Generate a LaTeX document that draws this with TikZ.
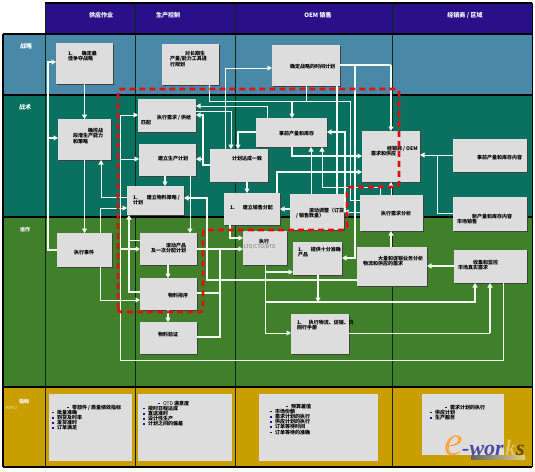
\documentclass[tikz,border=0pt]{standalone}
\usepackage{fontspec}
\setmainfont{Noto Sans CJK SC}
\newfontfamily\wmfont{Liberation Serif}
\usetikzlibrary{arrows.meta,shadows}
\definecolor{hdr}{HTML}{2A1088}
\definecolor{strat}{HTML}{4A88A8}
\definecolor{tact}{HTML}{0A7060}
\definecolor{oper}{HTML}{40802A}
\definecolor{kpi}{HTML}{C89E00}
\definecolor{boxc}{HTML}{DDDDDD}
\definecolor{wire}{HTML}{F4FFF4}
\definecolor{redd}{HTML}{DD1111}
\definecolor{bul}{HTML}{2A1088}
\definecolor{rule1}{HTML}{0A2A10}
\tikzset{
  boxnode/.style={rectangle,fill=boxc,inner sep=0pt,outer sep=0pt,
    general shadow={fill=black!75,shadow xshift=.7pt,shadow yshift=-.7pt},
    font=\fontsize{5}{5.5}\selectfont\bfseries,text=black},
  kpibox/.style={rectangle,fill=boxc,inner sep=0pt,outer sep=0pt,
    font=\fontsize{5}{5.5}\selectfont\bfseries,text=black},
  hline/.style={draw=black,line width=1.3pt},
  vline/.style={draw=rule1,line width=.6pt},
  hdrtext/.style={text=white,font=\fontsize{6}{7}\selectfont\bfseries,inner sep=0pt},
  rowtext/.style={text=white,font=\fontsize{6}{7}\selectfont\bfseries,inner sep=0pt},
  thin wire/.style={draw=wire,line width=.8pt},
  fat wire/.style={draw=wire,line width=1.4pt},
  tip/.style={-{Triangle[length=4.5pt,width=5pt,fill=wire]}},
  reddash/.style={draw=redd,line width=2.6pt,dash pattern=on 6pt off 4pt,rounded corners=3pt},
}
\newcommand\bxsp{5.6}
% name, x1,y1,x2,y2 (box corners), tx,ty (baseline start of first text line), text
\newcommand\bx[9][boxnode]{%
  \pgfmathsetmacro\bxcx{(#3+#5)/2}\pgfmathsetmacro\bxcy{(#4+#6)/2}%
  \pgfmathsetmacro\bxw{#5-#3}\pgfmathsetmacro\bxh{#6-#4}%
  \pgfmathsetmacro\bxdx{#7-\bxcx}\pgfmathsetmacro\bxdy{\bxcy-#8}%
  \node[#1,minimum width=\bxw pt,minimum height=\bxh pt] (#2) at (\bxcx,\bxcy)
   {\makebox[0pt][l]{\hspace*{\bxdx pt}\raisebox{\bxdy pt}[0pt][0pt]{\parbox[t]{140pt}{\raggedright\lineskiplimit=-20pt\setlength\baselineskip{\bxsp pt}#9}}}};%
}
\newcommand\bu[1]{\makebox[5pt][l]{\textcolor{bul}{\rule[.8pt]{1.6pt}{1.6pt}}}#1}
\begin{document}
\begin{tikzpicture}[x=1pt,y=-1pt]
\useasboundingbox (0,0) rectangle (535,471);
\fill[white] (0,0) rectangle (535,471);
% bands
\fill[hdr] (45,3) rectangle (532,34);
\fill[strat] (3,34) rectangle (532,95);
\fill[tact] (3,95) rectangle (532,217);
\fill[oper] (3,217) rectangle (532,387);
\fill[kpi] (3,387) rectangle (532,467);
% column lines
\foreach \cx in {45,135,235,392}{\draw[vline] (\cx,3) -- (\cx,467);}
\draw[hline] (45,3) -- (532,3);
\foreach \ry in {34,95,217,387,467}{\draw[hline] (3,\ry) -- (532,\ry);}
\draw[hline] (3,34) -- (3,467);
\draw[draw=black,line width=.6pt] (532,3) -- (532,467);
% headers
\node[hdrtext] (h1) at (101,15) {供应作业};
\node[hdrtext] (h2) at (168,15) {生产控制};
\node[hdrtext] (h3) at (318,15) {OEM 销售};
\node[hdrtext] (h4) at (465,15) {经销商 / 区域};
\node[rowtext] (r1) at (26,46) {战略};
\node[rowtext] (r2) at (25,107) {战术};
\node[rowtext,font=\fontsize{5}{6}\selectfont\bfseries] (r3) at (25,230) {运作};
\node[rowtext,text=white,font=\fontsize{5}{6}\selectfont\bfseries] (r4) at (24,402) {指标};
\node[rowtext,text=kpi!35!white,font=\fontsize{4.5}{6}\selectfont] (r5) at (11,408) {(KPIs)};
% boxes
\bx{A}{56}{43}{113}{84}{68}{55}{1.\hspace{9pt}确定最\\佳争夺战略}
\bx{B}{162}{44}{219}{85}{170}{55}{\hspace*{15pt}对长期生\\产量/能力工具进\\行规划}
\bx{C}{272}{45}{340}{86}{290}{68}{确定战略的时间计划}
\bx{D}{58}{119}{111}{160}{73}{132}{\hspace*{15pt}确控战\\段增生产能力\\和策略}
\bx{E}{138}{99}{196}{132}{141}{119}{\hspace*{16pt}执行需求 / 供给\\匹配}
\bx{F}{139}{144}{196}{176}{158}{160}{建立生产计划}
\bx{G}{210}{149}{268}{182}{232}{160}{计划达成一致}
\bx{H}{256}{118}{327}{147}{279}{135}{事前产量和库存}
\bx{I}{362}{131}{420}{182}{371}{150}{\hspace*{16pt}经销商 / OEM\\需求和供应}
\bx{J}{453}{139}{527}{172}{477}{159}{事前产量和库存内容}
\bx{K}{453}{197}{527}{231}{457}{218}{\hspace*{15pt}新产量和库存内容\\市场销售}
\bx{L}{127}{186}{184}{215}{133}{199}{1.\hspace{9pt}建立物料策略 /\\计划}
\bx{M}{224}{193}{280}{225}{230}{209}{1.\hspace{8pt}建立销售分配}
\bx{N}{290}{194}{344}{230}{296}{212}{\hspace*{13pt}滚动调整（订货\\/ 销售数量）}
\bx{O}{360}{195}{423}{231}{381}{215}{执行需求分析}
\bx{P}{57}{233}{112}{267}{74}{254}{执行事件}
\bx{Q}{140}{233}{197}{265}{151}{247}{\hspace*{15pt}滚动产品\\及一次分配计划}
\bx{R}{140}{278}{197}{310}{168}{297}{物料排序}
\bx{S}{140}{322}{197}{354}{158}{336}{物料验证}
\bx{T}{243}{231}{287}{265}{244}{243}{\hspace*{15pt}执行\\\mbox{\mdseries\textcolor{black!55}{LTO/CTO/BTO}}}
\bx{U}{293}{242}{342}{275}{298}{251}{1.\hspace{8pt}提供十分准确\\产品}
\bx{V}{357}{247}{427}{286}{363}{260}{\hspace*{15pt}大量和促销业务分析\\物流和供应的需求}
\bx{W}{454}{250}{527}{283}{458}{264}{\hspace*{15pt}收集和监控\\市场真实需求}
\bx{X}{291}{314}{349}{354}{297}{324}{1.\hspace{7pt}执行物流、促销、价\\回行手册}
% KPI boxes
\renewcommand\bxsp{5.2}
\bx[kpibox]{K1}{49}{394}{132}{461}{52}{409}{\hspace*{15pt}\bu{零部件 / 质量绩效指标}\\\bu{批量准确}\\\bu{到货及时率}\\\bu{发货准时}\\\bu{订单满足}}
\bx[kpibox]{K2}{138}{394}{232}{461}{143}{405}{\hspace*{15pt}\bu{{\mdseries OTD} 满意度}\\\bu{按时日程达成}\\\bu{直送准时}\\\bu{设计性生产}\\\bu{计划之间的偏差}}
\bx[kpibox]{K3}{259}{394}{378}{461}{270}{408}{\hspace*{16pt}\bu{预算差值}\\\bu{市场份额}\\\bu{需求计划的执行}\\\bu{供应计划的执行}\\\bu{订单等待时间}\\\bu{订单等待的准确}}
\bx[kpibox]{K4}{422}{394}{504}{455}{430}{409}{\hspace*{15pt}\bu{需求计划的执行}\\\bu{供应计划}\\\bu{生产服务}}
% connectors
\draw[fat wire,tip] (P.west |- 0,250) -- (48,250) -- (48,62) -- (A.west |- 0,62);
\draw[fat wire,tip] (48,138) -- (D.west |- 0,138);
\draw[thin wire,tip] (A.south -| 84.5,0) -- (D.north -| 84.5,0);
\draw[thin wire,tip] (D.south -| 84.5,0) -- (P.north -| 84.5,0);
\draw[thin wire,tip] (L.west |- 0,197) -- (101,197) -- (D.south -| 101,0);
\draw[thin wire,tip] (P.north -| 100,0) -- (100,208) -- (L.west |- 0,208);
\draw[thin wire,tip] (P.south -| 100,0) -- (100,300) -- (R.west |- 0,300);
\draw[thin wire,tip] (W.south -| 503,0) -- (503,360) -- (120,360) -- (120,115) -- (E.west |- 0,115);
\draw[thin wire,tip] (120,159) -- (F.west |- 0,159);
\draw[fat wire,tip] (120,249) -- (Q.west |- 0,249);
\draw[thin wire,tip] (H.north -| 267,0) -- (267,106) -- (E.east |- 0,106);
\draw[thin wire] (B.south -| 209,0) -- (209,101) -- (350,101) -- (350,200) -- (O.west |- 0,200);
\draw[thin wire] (C.south -| 306,0) -- (306,101);
\draw[fat wire,tip] (292,101) -- (H.north -| 292,0);
\draw[fat wire,tip] (G.west |- 0,165) -- (203,165) -- (203,115) -- (E.east |- 0,115);
\draw[fat wire,tip] (203,159) -- (F.east |- 0,159);
\draw[thin wire,tip] (E.east |- 0,111) -- (231,111) -- (G.north -| 231,0);
\draw[thin wire,tip] (G.north -| 225,0) -- (225,68) -- (C.west |- 0,68);
\draw[fat wire,tip] (H.west |- 0,132) -- (238,132) -- (G.north -| 238,0);
\draw[fat wire,tip] (G.south -| 247,0) -- (M.north -| 247,0);
\draw[fat wire,tip] (F.south -| 165,0) -- (L.north -| 165,0);
\draw[thin wire,tip] (F.south -| 190,0) -- (Q.north -| 190,0);
\draw[fat wire,tip] (V.west |- 0,280) -- (207,280) -- (207,198) -- (L.east |- 0,198);
\draw[fat wire,tip] (Q.east |- 0,249) -- (T.west |- 0,249);
\draw[fat wire] (R.east |- 0,293) -- (220,293);
\draw[fat wire] (S.east |- 0,337) -- (220,337) -- (220,249);
\draw[fat wire,tip] (Q.south -| 168,0) -- (R.north -| 168,0);
\draw[fat wire,tip] (R.south -| 168,0) -- (S.north -| 168,0);
\draw[fat wire,tip] (R.west |- 0,292) -- (129,292) -- (L.south -| 129,0);
\draw[thin wire] (Q.west |- 0,240) -- (129,240);
\draw[fat wire,tip] (M.south -| 230,0) -- (230,238) -- (T.west |- 0,238);
\draw[thin wire,tip] (T.south -| 265,0) -- (265,333) -- (X.west |- 0,333);
\draw[fat wire,tip] (265,272) -- (U.west |- 0,272);
\draw[fat wire,tip] (U.south -| 318,0) -- (318,302);
\draw[fat wire,tip] (265,302) -- (475,302) -- (W.south -| 475,0);
\draw[thin wire] (X.east |- 0,333) -- (490,333);
\draw[fat wire,tip] (490,333) -- (W.south -| 490,0);
\draw[fat wire,tip] (W.west |- 0,266) -- (V.east |- 0,266);
\draw[fat wire,tip] (V.north -| 391,0) -- (O.south -| 391,0);
\draw[fat wire] (C.east |- 0,65) -- (391,65);
\draw[fat wire,tip] (391,65) -- (I.north -| 391,0);
\draw[fat wire,tip] (355,65) -- (355,258) -- (U.east |- 0,258);
\draw[fat wire] (N.north -| 337,0) -- (C.south -| 337,0);
\draw[fat wire,tip] (H.south -| 292,0) -- (292,156) -- (I.west |- 0,156);
\draw[fat wire,tip] (N.west |- 0,209) -- (M.east |- 0,209);
\draw[thin wire,tip] (N.north -| 311,0) -- (H.south -| 311,0);
\draw[thin wire,tip] (O.north -| 380,0) -- (380,187) -- (322,187) -- (H.south -| 322,0);
\draw[thin wire,tip] (O.west |- 0,212) -- (N.east |- 0,212);
\draw[fat wire,tip] (345,212) -- (345,132) -- (H.east |- 0,132);
\draw[fat wire,tip] (M.north -| 277,0) -- (277,172) -- (I.west |- 0,172);
\draw[thin wire,tip] (O.north -| 391,0) -- (I.south -| 391,0);
\draw[thin wire,tip] (J.west |- 0,155) -- (I.east |- 0,155);
\draw[thin wire] (K.west |- 0,213) -- (437,213) -- (437,155);
% red dashed frame
\draw[reddash] (118,312) -- (118,89) -- (399,89) -- (399,187) -- (347,187) -- (347,230) -- (203,230) -- (203,312) -- cycle;
% watermark
\shade[left color=black!60,right color=kpi!50!white] (471,455) rectangle (525,459);
\node[inner sep=0pt,text=orange!70!white,font=\fontsize{42}{42}\selectfont\wmfont\itshape] (we) at (454,446) {e};
\node[inner sep=0pt,anchor=base west,text=black!55!blue!70!white,font=\fontsize{22}{22}\selectfont\wmfont\bfseries\itshape] (w1) at (462,455) {-wor};
\node[inner sep=0pt,anchor=base west,text=kpi!60!white,font=\fontsize{22}{22}\selectfont\wmfont\bfseries\itshape] (w2) at (505,455) {k};
\node[inner sep=0pt,anchor=base west,text=black!50!kpi,font=\fontsize{22}{22}\selectfont\wmfont\bfseries\itshape] (w3) at (516,455) {s};
\end{tikzpicture}
\end{document}
